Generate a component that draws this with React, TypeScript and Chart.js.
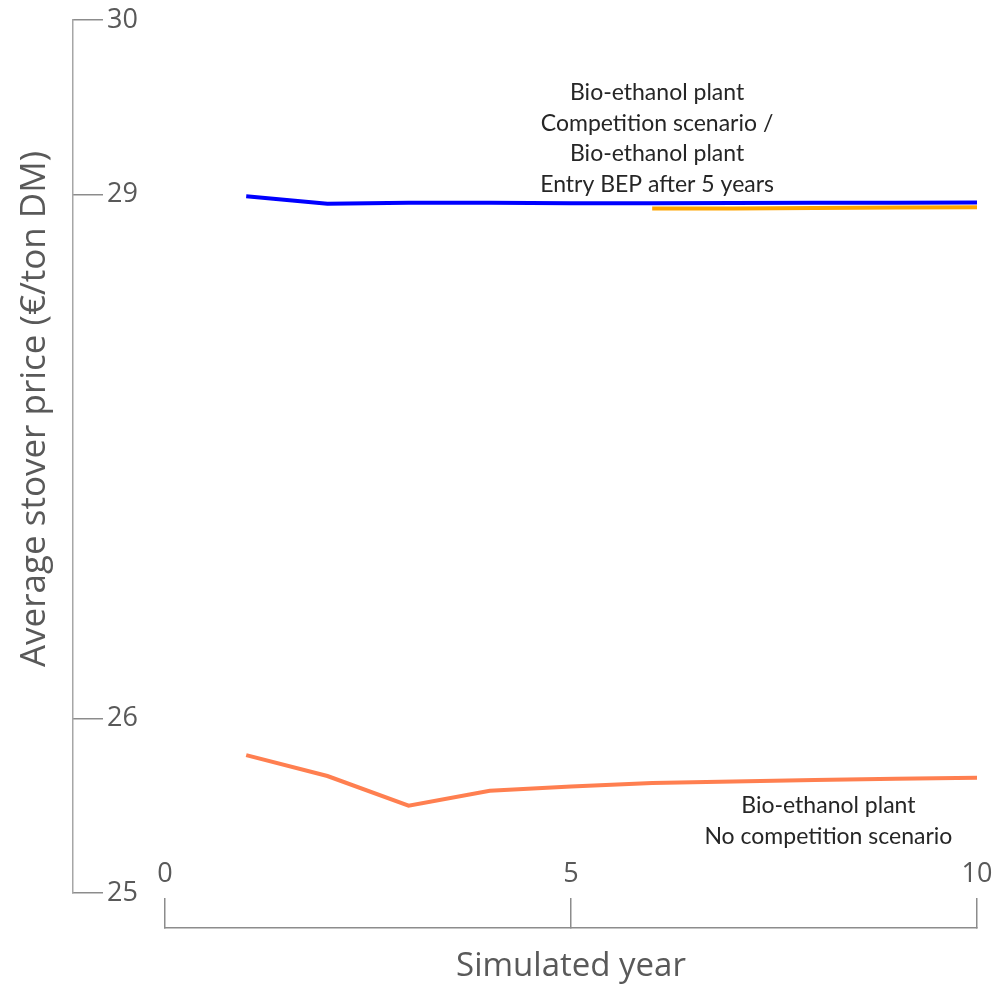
import React, { useEffect, useRef } from "react";
import { Chart, registerables } from "chart.js";

Chart.register(...registerables);

// ---- data ----
const years = [1, 2, 3, 4, 5, 6, 7, 8, 9, 10];
const competitionPrices = [28.99, 28.948, 28.953, 28.954, 28.95, 28.951, 28.952, 28.953, 28.954, 28.955];
const entryAfter5Prices: (number | null)[] = [null, null, null, null, null, 28.92, 28.921, 28.923, 28.926, 28.928];
const noCompetitionPrices = [25.79, 25.67, 25.5, 25.585, 25.61, 25.63, 25.638, 25.647, 25.655, 25.66];
const yTickValues = [25, 26, 29, 30];
const xTickValues = [0, 5, 10];
const topNoteLines = ["Bio-ethanol plant", "Competition scenario /", "Bio-ethanol plant", "Entry BEP after 5 years"];
const bottomNoteLines = ["Bio-ethanol plant", "No competition scenario"];
const xTitle = "Simulated year";
const yTitle = "Average stover price (€/ton DM)";

// ---- note anchors (data coordinates) ----
const noteAnchors = [
  { lines: topNoteLines, x: 6.06, y: 29.585 },
  { lines: bottomNoteLines, x: 8.17, y: 25.5 },
];

const W_T = 42; // title column width
const PAD_L = 14; // left padding
const W_Y = 73 - PAD_L - W_T; // y axis column width
const H_X = 58.8; // x axis box height

const toPoints = (vals: (number | null)[]) =>
  years.map((x, i) => ({ x, y: vals[i] })).filter((p) => p.y !== null);

const notesPlugin = {
  id: "notes",
  afterDatasetsDraw(chart: any) {
    const { ctx, scales } = chart;
    ctx.save();
    ctx.font = "23px Lato";
    ctx.fillStyle = "#262626";
    ctx.textAlign = "center";
    ctx.textBaseline = "middle";
    for (const n of noteAnchors) {
      const px = scales.x.getPixelForValue(n.x);
      const py = scales.y.getPixelForValue(n.y);
      n.lines.forEach((l, i) => ctx.fillText(l, px, py + i * 30.7));
    }
    ctx.restore();
  },
};

const zeroPad = (s: any) => {
  s.paddingTop = 0;
  s.paddingBottom = 0;
  s.paddingLeft = 0;
  s.paddingRight = 0;
};

export default function App() {
  const ref = useRef<HTMLCanvasElement | null>(null);
  useEffect(() => {
    if (!ref.current) return;
    const axisColor = "#8c8c8c";
    const textColor = "#595959";
    const line = (label: string, vals: (number | null)[], color: string) => ({
      label,
      data: toPoints(vals) as any,
      borderColor: color,
      backgroundColor: color,
      borderWidth: 4,
      pointRadius: 0,
      tension: 0,
      xAxisID: "x",
      yAxisID: "y",
    });
    const chart = new Chart(ref.current, {
      type: "line",
      data: {
        datasets: [
          line("Bio-ethanol plant, no competition scenario", noCompetitionPrices, "#ff7f50"),
          line("Bio-ethanol plant, competition scenario", competitionPrices, "#0000ff"),
          line("Bio-ethanol plant, entry BEP after 5 years", entryAfter5Prices, "#ffa500"),
        ],
      },
      options: {
        responsive: false,
        animation: false,
        devicePixelRatio: 1,
        layout: { padding: { left: PAD_L, top: 20, right: 17, bottom: 987 - 928 - H_X } },
        plugins: { legend: { display: false }, tooltip: { enabled: false }, title: { display: false } },
        scales: {
          x: {
            type: "linear",
            axis: "x",
            position: "bottom",
            min: 0,
            max: 10,
            stack: "bottom",
            stackWeight: 812,
            weight: 1,
            afterBuildTicks: (s: any) => {
              s.ticks = xTickValues.map((v) => ({ value: v }));
            },
            afterFit: (s: any) => {
              s.height = H_X;
              zeroPad(s);
            },
            ticks: {
              mirror: true,
              color: textColor,
              font: { family: "Open Sans", size: 27 },
              padding: 37.8,
              maxRotation: 0,
              minRotation: 0,
              autoSkip: false,
            },
            grid: { display: true, drawOnChartArea: false, drawTicks: true, tickLength: -30, color: axisColor, lineWidth: 1.5 },
            border: { display: true, color: axisColor, width: 1.5 },
            title: { display: true, text: xTitle, color: textColor, font: { family: "Open Sans", size: 33 }, padding: { top: 0, bottom: 0 } },
          } as any,
          xPad: {
            type: "linear",
            axis: "x",
            position: "bottom",
            stack: "bottom",
            stackWeight: 92,
            weight: 0,
            afterFit: (s: any) => {
              s.height = H_X;
              zeroPad(s);
            },
            ticks: { display: false },
            grid: { display: false, drawTicks: false },
            border: { display: false },
          } as any,
          y: {
            type: "linear",
            axis: "y",
            position: "left",
            min: 25,
            max: 30,
            stack: "left",
            stackWeight: 873,
            weight: 2,
            afterBuildTicks: (s: any) => {
              s.ticks = yTickValues.map((v) => ({ value: v }));
            },
            afterFit: (s: any) => {
              s.width = W_Y;
              zeroPad(s);
            },
            ticks: {
              mirror: true,
              padding: 34,
              color: textColor,
              font: { family: "Open Sans", size: 27 },
              autoSkip: false,
            },
            grid: { display: true, drawOnChartArea: false, drawTicks: true, tickLength: -30, color: axisColor, lineWidth: 1.5 },
            border: { display: true, color: "#a6a6a6", width: 1.5 },
          } as any,
          yPad: {
            type: "linear",
            axis: "y",
            position: "left",
            stack: "left",
            stackWeight: 35,
            weight: 1,
            afterFit: (s: any) => {
              s.width = W_Y;
              zeroPad(s);
            },
            ticks: { display: false },
            grid: { display: false, drawTicks: false },
            border: { display: false },
          } as any,
          yTitleAxis: {
            type: "linear",
            axis: "y",
            position: "left",
            stack: "titleCol",
            stackWeight: 778,
            weight: 4,
            afterFit: (s: any) => {
              s.width = W_T;
              zeroPad(s);
            },
            ticks: { display: false },
            grid: { display: false, drawTicks: false },
            border: { display: false },
            title: { display: true, text: yTitle, color: textColor, font: { family: "Open Sans", size: 35 }, padding: { top: 0, bottom: 0 } },
          } as any,
          yTitlePad: {
            type: "linear",
            axis: "y",
            position: "left",
            stack: "titleCol",
            stackWeight: 130,
            weight: 3,
            afterFit: (s: any) => {
              s.width = W_T;
              zeroPad(s);
            },
            ticks: { display: false },
            grid: { display: false, drawTicks: false },
            border: { display: false },
          } as any,
        },
      },
      plugins: [notesPlugin],
    });
    return () => chart.destroy();
  }, []);

  return (
    <div style={{ position: "absolute", left: 0, top: 0, width: 994, height: 987, background: "#ffffff" }}>
      <canvas ref={ref} width={994} height={987} style={{ display: "block" }} />
    </div>
  );
}
